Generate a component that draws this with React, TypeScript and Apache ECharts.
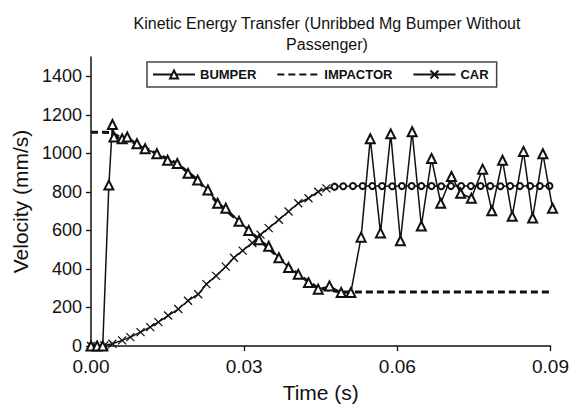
import React, { useEffect, useRef } from 'react';
import * as echarts from 'echarts';

// Time (s) and velocity (mm/s) values
const bumperTime = [0, 0.0012, 0.0023, 0.0035, 0.0042, 0.0045, 0.0061, 0.0071, 0.009, 0.0106, 0.0129, 0.015, 0.0169, 0.019, 0.0209, 0.0229, 0.0248, 0.0264, 0.029, 0.0309, 0.0329, 0.0348, 0.0368, 0.0387, 0.0406, 0.0426, 0.0445, 0.0467, 0.049, 0.0509, 0.0529, 0.0547, 0.0567, 0.0587, 0.0606, 0.0629, 0.0647, 0.0667, 0.0685, 0.0706, 0.0724, 0.0745, 0.0767, 0.0785, 0.0806, 0.0825, 0.0847, 0.0865, 0.0885, 0.0904];
const bumperVel = [0, 0, 0, 835, 1150, 1085, 1076, 1085, 1050, 1024, 998, 964, 947, 896, 861, 810, 741, 715, 647, 600, 552, 518, 458, 407, 372, 329, 295, 312, 278, 278, 565, 1076, 587, 1101, 546, 1112, 623, 973, 741, 880, 793, 767, 918, 702, 964, 673, 1010, 664, 998, 715];

const impactorTime = [0, 0.004, 0.0061, 0.009, 0.0129, 0.0169, 0.0209, 0.0248, 0.029, 0.0329, 0.0368, 0.0406, 0.0445, 0.049, 0.0529, 0.0567, 0.0606, 0.0647, 0.0685, 0.0724, 0.0767, 0.0806, 0.0847, 0.0885, 0.0904];
const impactorVel = [1110, 1108, 1076, 1050, 998, 947, 861, 741, 647, 552, 458, 372, 300, 280, 280, 280, 280, 280, 280, 280, 280, 280, 280, 280, 280];

const carTime = [0, 0.0006, 0.0026, 0.0042, 0.0061, 0.0077, 0.0097, 0.0116, 0.0132, 0.0151, 0.0171, 0.019, 0.021, 0.0226, 0.0245, 0.0264, 0.028, 0.0297, 0.0316, 0.0332, 0.0348, 0.0368, 0.0387, 0.0406, 0.0426, 0.0445, 0.0461, 0.0477, 0.0494, 0.0513, 0.0532, 0.0551, 0.057, 0.059, 0.0609, 0.0628, 0.0647, 0.0667, 0.0686, 0.0705, 0.0725, 0.0744, 0.0763, 0.0782, 0.0802, 0.0821, 0.084, 0.086, 0.0879, 0.0898];
const carVel = [0, 3, 3, 12, 29, 46, 72, 98, 124, 158, 192, 235, 269, 321, 364, 412, 458, 495, 535, 578, 612, 655, 698, 741, 767, 801, 818, 827, 829, 830, 830, 830, 830, 829, 830, 830, 830, 830, 829, 830, 830, 830, 830, 830, 829, 830, 830, 830, 830, 830];
const carCircleFrom = 0.0477;

const xTicks = [0, 0.03, 0.06, 0.09];
const yTicks = [0, 200, 400, 600, 800, 1000, 1200, 1400];

const FONT = '"Liberation Sans", Arial, sans-serif';
const INK = '#111';
const X_SYMBOL = 'path://M0 0L10 10M10 0L0 10';

export default function App() {
  const ref = useRef<HTMLDivElement>(null);
  useEffect(() => {
    const chart = echarts.init(ref.current!, null, { renderer: 'svg' });
    const pair = (ts: number[], vs: number[]) => ts.map((t, i) => [t, vs[i]]);
    const carData = carTime.map((t, i) =>
      t >= carCircleFrom
        ? { value: [t, carVel[i]], symbol: 'emptyCircle', symbolSize: 6 }
        : { value: [t, carVel[i]] }
    );
    chart.setOption({
      animation: false,
      backgroundColor: '#fff',
      title: {
        text: 'Kinetic Energy Transfer (Unribbed Mg Bumper Without\nPassenger)',
        left: 322,
        top: 8,
        textAlign: 'center',
        textStyle: { fontFamily: FONT, fontSize: 16, fontWeight: 'normal', color: INK, lineHeight: 21 },
      },
      legend: {
        data: ['BUMPER', { name: 'IMPACTOR', itemStyle: { opacity: 0 } }, 'CAR'],
        left: 147,
        top: 62,
        itemWidth: 42,
        itemHeight: 10,
        itemGap: 20,
        padding: [6, 8, 6, 5],
        borderColor: '#444',
        borderWidth: 1.5,
        textStyle: { fontFamily: FONT, fontSize: 13, fontWeight: 'bold', color: INK },
      },
      grid: { left: 91, right: 17, top: 57, bottom: 59, containLabel: false },
      xAxis: {
        type: 'value',
        min: 0,
        max: 0.09,
        interval: 0.03,
        name: 'Time (s)',
        nameLocation: 'middle',
        nameGap: 36,
        nameTextStyle: { fontFamily: FONT, fontSize: 21, color: INK },
        axisLine: { lineStyle: { color: INK, width: 1.5 } },
        axisTick: { show: true, length: 5, lineStyle: { color: INK, width: 1.3 }, customValues: xTicks },
        axisLabel: {
          fontFamily: FONT, fontSize: 19, color: INK, margin: 11,
          customValues: xTicks,
          formatter: (v: number) => v.toFixed(2),
        },
        splitLine: { show: false },
      },
      yAxis: {
        type: 'value',
        min: 0,
        max: 1500,
        interval: 100,
        name: 'Velocity (mm/s)',
        nameLocation: 'middle',
        nameGap: 56,
        nameTextStyle: { fontFamily: FONT, fontSize: 21, color: INK },
        axisLine: { show: true, lineStyle: { color: INK, width: 1.5 } },
        axisTick: { show: true, length: 5, lineStyle: { color: INK, width: 1.3 }, customValues: yTicks },
        axisLabel: {
          fontFamily: FONT, fontSize: 18, color: INK, margin: 9, customValues: yTicks,
          formatter: (v: number) => String(v),
        },
        splitLine: { show: false },
      },
      series: [
        {
          name: 'BUMPER',
          type: 'line',
          data: pair(bumperTime, bumperVel),
          symbol: 'emptyTriangle',
          symbolSize: 9,
          clip: false,
          z: 4,
          lineStyle: { color: INK, width: 1.5 },
          itemStyle: { color: INK, borderWidth: 1.3 },
        },
        {
          name: 'IMPACTOR',
          type: 'line',
          data: pair(impactorTime, impactorVel),
          symbol: 'none',
          clip: false,
          z: 3,
          lineStyle: { color: INK, width: 3, type: [7, 4] },
          itemStyle: { color: INK },
        },
        {
          name: 'CAR',
          type: 'line',
          data: carData,
          symbol: X_SYMBOL,
          symbolSize: 8,
          clip: false,
          z: 2,
          lineStyle: { color: INK, width: 1.5 },
          itemStyle: { color: INK, borderColor: INK, borderWidth: 1.3 },
        },
      ],
    });
    return () => chart.dispose();
  }, []);
  return <div ref={ref} style={{ position: 'absolute', left: 0, top: 0, width: 572, height: 408 }} />;
}
